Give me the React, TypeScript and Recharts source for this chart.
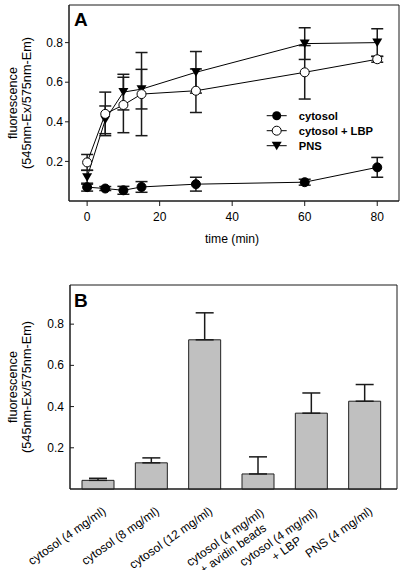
import React from 'react';
import {
  LineChart,
  Line,
  BarChart,
  Bar,
  XAxis,
  YAxis,
  ErrorBar,
  Legend,
  CartesianGrid,
} from 'recharts';

// 時間 (min)
const times = [0, 5, 10, 15, 30, 60, 80];
// 各系列螢光值與誤差
const cytosol = [0.07, 0.063, 0.054, 0.071, 0.085, 0.095, 0.17];
const cytosolErr = [0.02, 0.01, 0.02, 0.027, 0.035, 0.015, 0.05];
const cytosolLbp = [0.195, 0.44, 0.485, 0.54, 0.557, 0.65, 0.716];
const cytosolLbpErr = [0.04, 0.11, 0.14, 0.21, 0.11, 0.135, 0.015];
const pns = [0.12, 0.41, 0.55, 0.565, 0.65, 0.795, 0.8];
const pnsErr = [0.035, 0.07, 0.09, 0.1, 0.105, 0.08, 0.07];

const xTicks = [0, 20, 40, 60, 80];
const yTicks = [0.2, 0.4, 0.6, 0.8];

// B 面板
const categories = [
  'cytosol (4 mg/ml)',
  'cytosol (8 mg/ml)',
  'cytosol (12 mg/ml)',
  'cytosol (4 mg/ml)\n+ avidin beads',
  'cytosol (4 mg/ml)\n+ LBP',
  'PNS (4 mg/ml)',
];
const barValues = [0.042, 0.127, 0.724, 0.073, 0.368, 0.426];
const barErr = [0.01, 0.024, 0.131, 0.083, 0.098, 0.081];

const lineData = times.map((t, i) => ({
  t,
  cytosol: cytosol[i],
  cytosolErr: cytosolErr[i],
  lbp: cytosolLbp[i],
  lbpErr: cytosolLbpErr[i],
  pns: pns[i],
  pnsErr: pnsErr[i],
}));

const barData = categories.map((name, i) => ({
  name,
  value: barValues[i],
  err: [0, barErr[i]],
}));

const FONT = '"Liberation Sans", Arial, sans-serif';
const INK = '#1a1a1a';

// 外框：只在繪圖區邊緣畫線
const frameX = ({ offset }: any) => [offset.left, offset.left + offset.width];
const frameY = ({ offset }: any) => [offset.top, offset.top + offset.height];

const FilledDot = (p: any) =>
  p.cx == null ? null : <circle key={`f${p.index}`} cx={p.cx} cy={p.cy} r={4.5} fill="#000" stroke="#000" />;
const OpenDot = (p: any) =>
  p.cx == null ? null : <circle key={`o${p.index}`} cx={p.cx} cy={p.cy} r={4.5} fill="#fff" stroke="#000" strokeWidth={1} />;
const TriDot = (p: any) =>
  p.cx == null ? null : (
    <polygon
      key={`t${p.index}`}
      points={`${p.cx - 5},${p.cy - 4} ${p.cx + 5},${p.cy - 4} ${p.cx},${p.cy + 4.5}`}
      fill="#000"
    />
  );

// 圖例
const LegendBox = () => {
  const rows = [
    { label: 'cytosol', mark: 'filled' },
    { label: 'cytosol + LBP', mark: 'open' },
    { label: 'PNS', mark: 'tri' },
  ];
  return (
    <svg width={135} height={50}>
      {rows.map((r, i) => {
        const y = 10.7 + i * 15;
        const cx = 14.7;
        return (
          <g key={r.label}>
            <line x1={4.7} x2={24.7} y1={y} y2={y} stroke="#000" />
            {r.mark === 'filled' && <circle cx={cx} cy={y} r={4.5} fill="#000" />}
            {r.mark === 'open' && <circle cx={cx} cy={y} r={4.5} fill="#fff" stroke="#000" />}
            {r.mark === 'tri' && (
              <polygon points={`${cx - 5},${y - 4} ${cx + 5},${y - 4} ${cx},${y + 4.5}`} fill="#000" />
            )}
            <text x={36.7} y={y + 4} fontFamily={FONT} fontSize={11.2} fontWeight="bold" fill="#000">
              {r.label}
            </text>
          </g>
        );
      })}
    </svg>
  );
};

const YTitle = (props: any) => {
  const vb = props.viewBox || {};
  const cy = vb.y + vb.height / 2;
  return (
    <g fontFamily={FONT} fontSize={12.7} fill="#000">
      <text x={16.7} y={cy} transform={`rotate(-90, 16.7, ${cy})`} textAnchor="middle">
        fluorescence
      </text>
      <text x={30.5} y={cy} transform={`rotate(-90, 30.5, ${cy})`} textAnchor="middle">
        (545nm-Ex/575nm-Em)
      </text>
    </g>
  );
};

const XTitle = (props: any) => {
  const vb = props.viewBox || {};
  return (
    <text x={vb.x + vb.width / 2 - 2} y={243} textAnchor="middle" fontFamily={FONT} fontSize={12.2} fill="#000">
      time (min)
    </text>
  );
};

// B 面板 Y 軸刻度（向內）
const InTick = (p: any) => (
  <g>
    <line x1={p.x + 6} x2={p.x + 10} y1={p.y} y2={p.y} stroke={INK} />
    <text x={p.x} y={p.y + 4} textAnchor="end" fontFamily={FONT} fontSize={12} fill="#000">
      {p.payload.value}
    </text>
  </g>
);

// B 面板類別標籤（旋轉）
const CatTick = (p: any) => {
  const lines: string[] = String(p.payload.value).split('\n');
  return (
    <g transform={`translate(${p.x + 9},${p.y + 24})`}>
      {lines.length === 1 ? (
        <text transform="rotate(-35)" textAnchor="end" fontFamily={FONT} fontSize={12} fill="#000">
          {lines[0]}
        </text>
      ) : (
        <text transform="rotate(-35)" textAnchor="middle" fontFamily={FONT} fontSize={12} fill="#000">
          {lines.map((l, i) => (
            <tspan key={i} x={-48} dy={i ? 14 : 0}>
              {l}
            </tspan>
          ))}
        </text>
      )}
    </g>
  );
};

const panelLabel: React.CSSProperties = {
  position: 'absolute',
  fontFamily: FONT,
  fontWeight: 'bold',
  fontSize: 19,
  lineHeight: '19px',
};

export default function App() {
  return (
    <div style={{ position: 'absolute', left: 0, top: 0, width: 400, height: 570, background: '#fff' }}>
      <div style={{ position: 'absolute', left: 0, top: 0 }}>
        <LineChart width={400} height={260} data={lineData} margin={{ top: 5, right: 1, bottom: 9, left: 0 }}>
          <CartesianGrid
            stroke={INK}
            verticalCoordinatesGenerator={frameX}
            horizontalCoordinatesGenerator={frameY}
          />
          <XAxis
            dataKey="t"
            type="number"
            domain={[-5, 86]}
            ticks={xTicks}
            height={50}
            tickSize={5}
            tickMargin={6}
            stroke={INK}
            tick={{ fontFamily: FONT, fontSize: 12, fill: '#000' }}
            label={<XTitle />}
          />
          <YAxis
            type="number"
            domain={[0, 0.99]}
            ticks={yTicks}
            width={69}
            tickSize={4}
            tickMargin={2}
            stroke={INK}
            tick={{ fontFamily: FONT, fontSize: 12, fill: '#000' }}
            label={<YTitle />}
          />
          <Legend
            layout="vertical"
            align="center"
            verticalAlign="middle"
            wrapperStyle={{ left: 262, top: 105, width: 135, height: 50 }}
            content={() => <LegendBox />}
          />
          <Line dataKey="cytosol" stroke="#000" strokeWidth={1} dot={FilledDot} isAnimationActive={false}>
            <ErrorBar dataKey="cytosolErr" direction="y" width={6} stroke={INK} isAnimationActive={false} />
          </Line>
          <Line dataKey="pns" stroke="#000" strokeWidth={1} dot={TriDot} isAnimationActive={false}>
            <ErrorBar dataKey="pnsErr" direction="y" width={6} stroke={INK} isAnimationActive={false} />
          </Line>
          <Line dataKey="lbp" stroke="#000" strokeWidth={1} dot={OpenDot} isAnimationActive={false}>
            <ErrorBar dataKey="lbpErr" direction="y" width={6} stroke={INK} isAnimationActive={false} />
          </Line>
        </LineChart>
        <div style={{ ...panelLabel, left: 74, top: 10 }}>A</div>
      </div>

      <div style={{ position: 'absolute', left: 0, top: 280 }}>
        <BarChart width={400} height={290} data={barData} margin={{ top: 5, right: 3, bottom: 0, left: 0 }}>
          <CartesianGrid
            stroke={INK}
            verticalCoordinatesGenerator={frameX}
            horizontalCoordinatesGenerator={frameY}
          />
          <XAxis
            dataKey="name"
            height={81}
            interval={0}
            padding={{ left: 1, right: 6 }}
            tickSize={0}
            tickMargin={0}
            tickLine={false}
            stroke={INK}
            tick={<CatTick />}
          />
          <YAxis
            type="number"
            domain={[0, 0.99]}
            ticks={yTicks}
            width={70}
            tickSize={0}
            tickMargin={6}
            tickLine={false}
            stroke={INK}
            tick={<InTick />}
            label={<YTitle />}
          />
          <Bar dataKey="value" barSize={32} fill="#c0c0c0" stroke="#222" strokeWidth={1} isAnimationActive={false}>
            <ErrorBar dataKey="err" direction="y" width={9} stroke={INK} isAnimationActive={false} />
          </Bar>
        </BarChart>
        <div style={{ ...panelLabel, left: 74, top: 11 }}>B</div>
      </div>
    </div>
  );
}
